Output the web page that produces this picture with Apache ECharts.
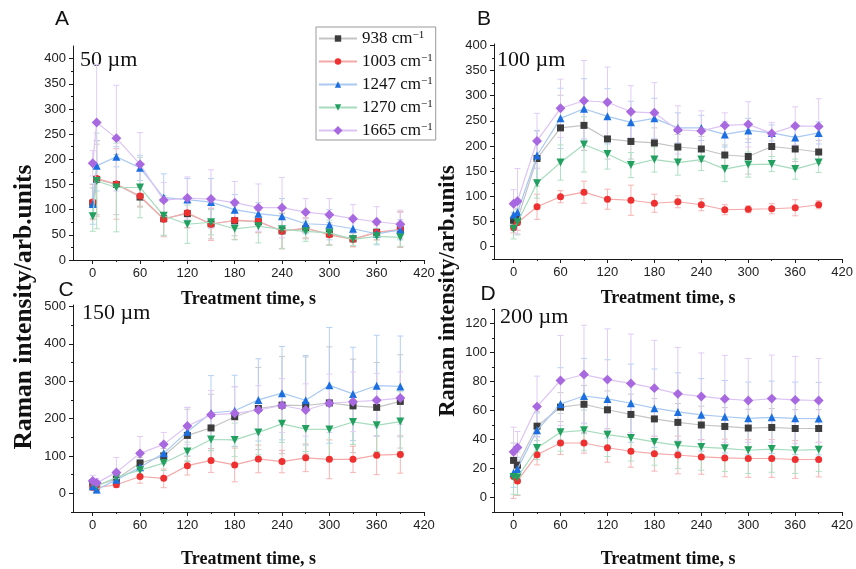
<!DOCTYPE html>
<html><head><meta charset="utf-8">
<script src="https://cdn.jsdelivr.net/npm/echarts@6/dist/echarts.min.js"></script>
<style>html,body{margin:0;padding:0;background:#fff}#c{width:856px;height:569px}</style>
</head><body><div id="c"></div>
<script>
// ---------- DATA ----------
const times = [0,5,30,60,90,120,150,180,210,240,270,300,330,360,390];
const bandNames = ['938','1003','1247','1270','1665'];
const panelLetters = ['A','B','C','D'];
const panelDepths = ['50 µm','100 µm','150 µm','200 µm'];
const xTitle = 'Treatment time, s';
const yTitle = 'Raman intensity/arb.units';

// Panel A (50 µm)
const a938  = [113,160,150,125,82,92,72,78,76,58,62,52,42,55,60];
const a1003 = [115,162,151,127,81,94,71,79,77,57,64,50,41,55,61];
const a1247 = [111,187,205,183,124,120,115,100,92,87,72,70,62,52,60];
const a1270 = [87,157,144,144,88,71,75,62,67,61,57,54,41,47,45];
const a1665 = [192,273,242,190,119,123,121,114,104,104,95,90,82,76,71];
const a938Err  = [30,70,60,20,33,28,30,30,22,35,20,22,15,15,35];
const a1003Err = [35,75,70,20,35,30,32,38,22,35,20,20,15,15,35];
const a1247Err = [40,50,20,25,47,42,47,30,22,35,20,30,18,22,20];
const a1270Err = [30,95,88,60,40,38,25,22,33,38,20,25,12,15,18];
const a1665Err = [25,115,105,63,35,42,58,42,47,60,27,32,28,30,28];

// Panel B (100 µm)
const b938  = [52,54,175,236,241,214,209,206,198,194,182,179,199,194,188];
const b1003 = [37,47,79,99,108,94,92,86,89,83,73,74,75,77,83];
const b1247 = [63,68,181,255,274,259,247,255,236,236,223,231,226,217,226];
const b1270 = [35,48,126,167,203,184,162,173,167,173,154,163,164,154,167];
const b1665 = [85,90,210,275,290,287,268,266,232,230,241,243,225,240,239];
const b938Err  = [15,22,55,65,50,40,35,30,25,25,20,35,20,25,23];
const b1003Err = [10,15,25,12,22,20,30,18,12,12,10,7,10,16,8];
const b1247Err = [20,25,50,60,60,55,42,40,30,25,25,24,16,25,22];
const b1270Err = [20,25,30,35,55,30,25,25,25,22,25,25,15,20,20];
const b1665Err = [28,65,55,58,80,70,52,60,48,40,25,45,22,38,55];

// Panel C (150 µm)
const c938  = [27,22,38,81,100,155,175,205,227,236,235,242,234,230,246];
const c1003 = [16,15,23,45,40,74,88,76,92,85,95,91,91,102,104];
const c1247 = [19,10,36,70,107,165,215,221,250,268,249,289,266,288,286];
const c1270 = [26,19,43,62,81,112,144,143,163,186,172,171,191,182,192];
const c1665 = [33,28,56,107,131,180,210,214,223,235,223,241,245,249,255];
const c938Err  = [10,8,15,15,20,70,90,80,110,130,130,150,125,120,125];
const c1003Err = [8,10,7,18,25,25,32,45,37,30,37,52,35,52,50];
const c1247Err = [10,10,15,20,25,65,100,95,110,125,120,155,125,135,135];
const c1270Err = [12,10,15,20,20,25,30,45,60,50,60,75,60,70,80];
const c1665Err = [15,12,40,45,32,50,65,72,65,72,70,78,80,72,70];

// Panel D (200 µm)
const d938  = [25.6,22.3,49.2,62.3,64.3,60.5,57.3,54.2,51.8,50.0,49.0,47.9,48.3,47.6,47.6];
const d1003 = [14.4,11.4,29.5,37.6,37.6,34.3,31.9,30.2,29.3,28.0,27.3,26.9,26.9,26.2,26.2];
const d1247 = [17.0,19.7,46.3,64.5,70.0,68.0,65.0,61.6,59.0,57.0,55.7,54.6,55.3,54.6,54.4];
const d1270 = [14.2,13.8,34.1,45.0,46.3,43.3,41.1,38.3,36.0,34.8,33.9,32.6,33.4,32.6,33.0];
const d1665 = [31.5,34.5,62.7,80.7,84.8,81.3,78.7,75.4,71.5,69.7,68.0,66.9,68.2,67.3,66.9];
const d938Err  = [12,9,10,10,13,13,14,14,13,13,13,13,13,13,13];
const d1003Err = [15,10,7,8,7,10,11,12,13,12,13,13,13,13,12];
const d1247Err = [10,8,12,25,26,27,27,27,27,25,25,25,25,25,25];
const d1270Err = [12,12,8,13,14,15,16,16,16,16,16,16,16,16,15];
const d1665Err = [17,11,21,31,34,35,34,33,32,30,30,29,30,30,29];

// Tick values
const xMajor = [0,60,120,180,240,300,360,420];
const xMinor = [30,90,150,210,270,330,390];
const yMajorA = [0,50,100,150,200,250,300,350,400];
const yMinorA = [25,75,125,175,225,275,325,375];
const yMajorB = [0,50,100,150,200,250,300,350,400];
const yMinorB = [-25,25,75,125,175,225,275,325,375];
const yMajorC = [0,100,200,300,400,500];
const yMinorC = [-50,50,150,250,350,450];
const yMajorD = [0,20,40,60,80,100,120];
const yMinorD = [-10,10,30,50,70,90,110,130];

// ---------- STYLE / LAYOUT ----------
const markerColors = ['#3c3c3c','#ee3030','#1c6fe0','#22a060','#a868e0'];
const lineColors   = ['#c4c4c4','#f6a8a8','#a9c8f2','#a6dcbc','#dcc4f4'];
const errColors    = ['#c8c8c8','#f7b4b4','#b4d0f4','#b0e0c4','#e2ccf6'];
const symbols = ['rect','circle','triangle','triangle','rect'];
const symRot  = [0,0,0,180,45];
const symSize = [7,7,8,8,7];

const panels = [
  {vals:[a938,a1003,a1247,a1270,a1665], errs:[a938Err,a1003Err,a1247Err,a1270Err,a1665Err],
   grid:{left:73,top:46,width:351,height:214}, yMin:0, yMax:425, yMaj:yMajorA, yMin_:yMinorA, gap:30},
  {vals:[b938,b1003,b1247,b1270,b1665], errs:[b938Err,b1003Err,b1247Err,b1270Err,b1665Err],
   grid:{left:494,top:44,width:350,height:215}, yMin:-25, yMax:403, yMaj:yMajorB, yMin_:yMinorB, gap:30},
  {vals:[c938,c1003,c1247,c1270,c1665], errs:[c938Err,c1003Err,c1247Err,c1270Err,c1665Err],
   grid:{left:73,top:305,width:351,height:215}, yMin:-50, yMax:504, yMaj:yMajorC, yMin_:yMinorC, gap:38},
  {vals:[d938,d1003,d1247,d1270,d1665], errs:[d938Err,d1003Err,d1247Err,d1270Err,d1665Err],
   grid:{left:494,top:309,width:350,height:212}, yMin:-10, yMax:130, yMaj:yMajorD, yMin_:yMinorD, gap:38}
];

const axisColor = '#1a1a1a';
const labelFont = {fontFamily:'Liberation Sans, Arial, sans-serif', fontSize:13, color:'#222'};
const serif = 'Liberation Serif, Times New Roman, serif';

const grids = [], xAxes = [], yAxes = [], series = [];
panels.forEach((p, i) => {
  grids.push(Object.assign({containLabel:false}, p.grid));
  xAxes.push({type:'value', gridIndex:i, position:'bottom', min:-25, max:420,
    name:xTitle, nameLocation:'middle', nameGap:p.gap,
    nameTextStyle:{fontFamily:serif, fontWeight:'bold', fontSize:18, color:'#111'},
    axisLine:{show:true, onZero:false, lineStyle:{color:axisColor, width:1}},
    axisTick:{show:true, length:4, customValues:xMajor, lineStyle:{color:axisColor}},
    axisLabel:{show:true, margin:7, customValues:xMajor, ...labelFont},
    splitLine:{show:false}});
  xAxes.push({type:'value', gridIndex:i, position:'bottom', min:-25, max:420,
    axisLine:{show:false, onZero:false},
    axisTick:{show:true, length:2, customValues:xMinor, lineStyle:{color:axisColor}},
    axisLabel:{show:false}, splitLine:{show:false}});
  yAxes.push({type:'value', gridIndex:i, position:'left', min:p.yMin, max:p.yMax,
    axisLine:{show:true, onZero:false, lineStyle:{color:axisColor, width:1}},
    axisTick:{show:true, length:4, customValues:p.yMaj, lineStyle:{color:axisColor}},
    axisLabel:{show:true, margin:7, customValues:p.yMaj, ...labelFont},
    splitLine:{show:false}});
  yAxes.push({type:'value', gridIndex:i, position:'left', min:p.yMin, max:p.yMax,
    axisLine:{show:false, onZero:false},
    axisTick:{show:true, length:2, customValues:p.yMin_, lineStyle:{color:axisColor}},
    axisLabel:{show:false}, splitLine:{show:false}});

  p.vals.forEach((vals, k) => {
    const errData = times.map((t, j) => [t, vals[j], p.errs[k][j]]);
    const col = errColors[k];
    series.push({
      type:'custom', name:'err'+i+'_'+k, xAxisIndex:2*i, yAxisIndex:2*i,
      dimensions:['x','y','e'], encode:{x:0, y:1}, data:errData, z:1, clip:false, silent:true,
      renderItem:(params, api) => {
        const x = api.value(0), y = api.value(1), e = api.value(2);
        const top = api.coord([x, y + e]), bot = api.coord([x, y - e]);
        const w = 3, st = {stroke:col, lineWidth:1};
        return {type:'group', children:[
          {type:'line', shape:{x1:top[0], y1:top[1], x2:bot[0], y2:bot[1]}, style:st},
          {type:'line', shape:{x1:top[0]-w, y1:top[1], x2:top[0]+w, y2:top[1]}, style:st},
          {type:'line', shape:{x1:bot[0]-w, y1:bot[1], x2:bot[0]+w, y2:bot[1]}, style:st}
        ]};
      }
    });
    series.push({
      type:'line', name:bandNames[k], xAxisIndex:2*i, yAxisIndex:2*i,
      data: times.map((t, j) => [t, vals[j]]),
      symbol:symbols[k], symbolRotate:symRot[k], symbolSize:symSize[k],
      showAllSymbol:true, z:2 + k,
      itemStyle:{color:markerColors[k], opacity:1},
      lineStyle:{color:lineColors[k], width:1.2},
      emphasis:{disabled:true}
    });
  });
});

const graphics = [];
const letterPos = [[62,19],[484,19],[66,290],[488,294]];
const depthPos = [[80,60],[497,60],[82,313],[500,317]];
panelLetters.forEach((L, i) => {
  graphics.push({type:'text', x:letterPos[i][0], y:letterPos[i][1],
    style:{text:L, fontFamily:'Liberation Sans, Arial, sans-serif', fontSize:21, fill:'#111', align:'center', verticalAlign:'middle'}});
  graphics.push({type:'text', x:depthPos[i][0], y:depthPos[i][1],
    style:{text:panelDepths[i], fontFamily:serif, fontSize:22, fill:'#111', align:'left', verticalAlign:'middle'}});
});
graphics.push({type:'text', x:24, y:307, rotation:Math.PI/2,
  style:{text:yTitle, fontFamily:serif, fontWeight:'bold', fontSize:25.5, fill:'#111', align:'center', verticalAlign:'middle'}});
graphics.push({type:'text', x:448, y:291, rotation:Math.PI/2,
  style:{text:yTitle, fontFamily:serif, fontWeight:'bold', fontSize:22.5, fill:'#111', align:'center', verticalAlign:'middle'}});

const chart = echarts.init(document.getElementById('c'), null, {renderer:'canvas'});
chart.setOption({
  animation:false,
  backgroundColor:'#fff',
  grid:grids, xAxis:xAxes, yAxis:yAxes, series:series,
  graphic:graphics,
  legend:{
    data:bandNames, orient:'vertical', left:316, top:27,
    backgroundColor:'#fff', borderColor:'#999', borderWidth:1,
    padding:[3,3,1,2], itemGap:6, itemWidth:38, itemHeight:8,
    selectedMode:false,
    formatter:n => '{t|' + n + ' cm}{s|−1}',
    textStyle:{fontFamily:serif, fontSize:17, color:'#111',
      rich:{t:{fontFamily:serif, fontSize:17, color:'#111'},
            s:{fontFamily:serif, fontSize:11, color:'#111', verticalAlign:'top', padding:[0,0,6,0]}}}
  }
});
</script></body></html>
